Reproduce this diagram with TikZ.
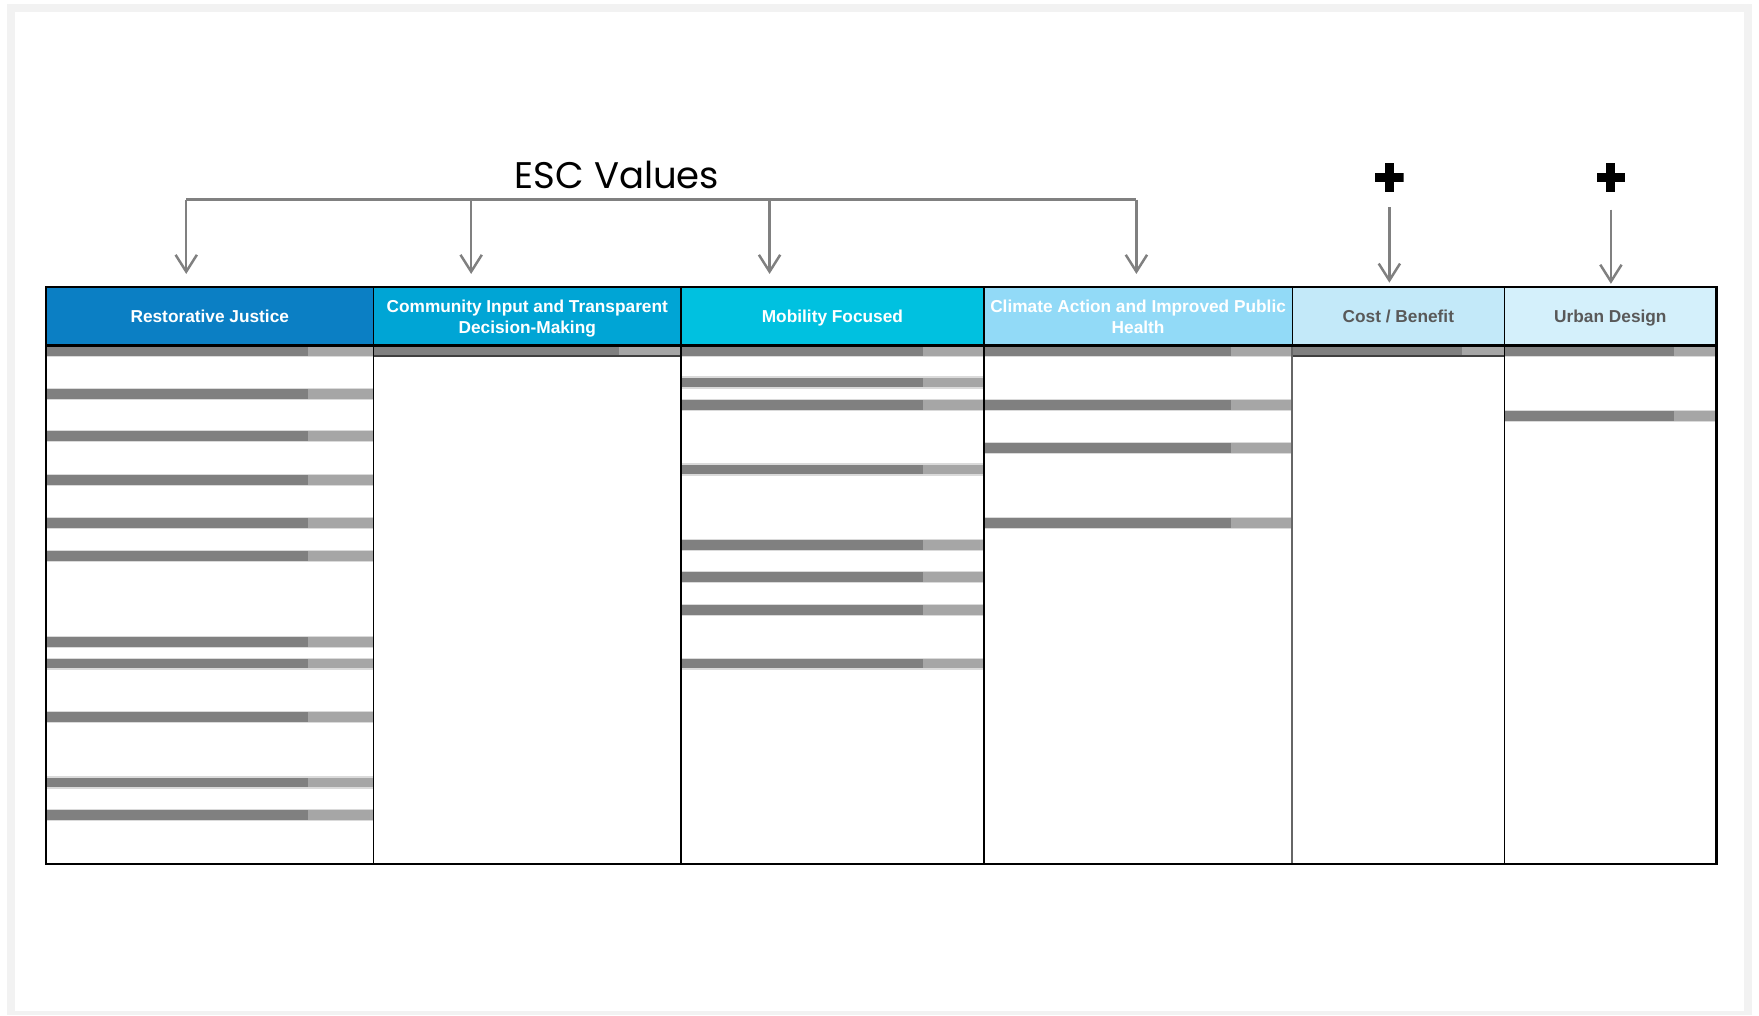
\documentclass[tikz,border=0pt]{standalone}
\usepackage{fontspec}
\usetikzlibrary{arrows.meta}
\newfontfamily\hdrfamily{Liberation Sans}
\newfontfamily\titlefamily{Poppins}
\definecolor{rjblue}{HTML}{0B7FC4}
\definecolor{ciblue}{HTML}{00A5D5}
\definecolor{mfblue}{HTML}{00C1E0}
\definecolor{cablue}{HTML}{92DAF7}
\definecolor{cbblue}{HTML}{C3E9F9}
\definecolor{udblue}{HTML}{D4F0FB}
\definecolor{bardark}{HTML}{808080}
\definecolor{barlight}{HTML}{A6A6A6}
\definecolor{baredge}{HTML}{DADADA}
\definecolor{linkgray}{HTML}{808080}
\definecolor{framegray}{HTML}{F2F2F2}
\definecolor{hdrtext}{HTML}{595959}
\tikzset{
  header/.style = {rectangle, anchor=north west, minimum height=52, inner sep=0,
    outer sep=0, draw=black, line width=1.5, align=center, text=white,
    font=\hdrfamily\bfseries\fontsize{15.4}{19}\selectfont},
  oneline/.style = {text height=11.1, text depth=0},
  link/.style = {draw=linkgray, line width=2.2},
  dropline/.style = {link, -{Straight Barb[length=15pt,width=19pt]}},
  colrule/.style = {line width=1.3},
  plussign/.style = {minimum size=25.5, inner sep=0, path picture={
    \fill ([shift={(-12.75pt,-4pt)}]path picture bounding box.center) rectangle ([shift={(12.75pt,4pt)}]path picture bounding box.center);
    \fill ([shift={(-4pt,-12.75pt)}]path picture bounding box.center) rectangle ([shift={(4pt,12.75pt)}]path picture bounding box.center);}}
}
% left, right, middle of one bar
\newcommand{\drawbar}[3]{%
  \fill[baredge] (#1,#3-5.4) rectangle (#2,#3+5.4);
  \fill[bardark] (#1,#3-4.4) rectangle ({#1+0.8*(#2-#1)},#3+4.4);
  \fill[barlight] ({#1+0.8*(#2-#1)},#3-4.4) rectangle (#2,#3+4.4);}
\newcommand{\toprule}{\rule{0pt}{16pt}}
\newcommand{\botrule}{\rule[-4pt]{0pt}{4pt}}

\begin{document}
\begin{tikzpicture}[x=1pt,y=-1pt]
  \useasboundingbox (0,0) rectangle (1568,905);
  \fill[framegray] (6.2,3.6) rectangle (1561.8,905);
  \fill[white] (13.4,10.7) rectangle (1554.6,901.2);

  \node[header, oneline, fill=rjblue, minimum width=292] (hRJ) at (41,256) {Restorative Justice};
  \node[header, fill=ciblue, minimum width=274] (hCI) at (333,256) {\toprule Community Input and Transparent\\Decision-Making\botrule};
  \node[header, oneline, fill=mfblue, minimum width=270] (hMF) at (607,256) {Mobility Focused};
  \node[header, fill=cablue, minimum width=275] (hCA) at (877,256) {\toprule Climate Action and Improved Public\\Health\botrule};
  \node[header, oneline, fill=cbblue, minimum width=189, text=hdrtext] (hCB) at (1152,256) {Cost / Benefit};
  \node[header, oneline, fill=udblue, minimum width=189, text=hdrtext] (hUD) at (1341,256) {Urban Design};
  \coordinate (tblSE) at (1530,770);

  \foreach \y in {313,351,389,428,466.5,495.5,572,591.5,639.5,697.5,726.5} {\drawbar{41}{333}{\y}}
  \drawbar{333}{607}{313}
  \foreach \y in {313,341,361,418.5,485.5,514.5,543.5,591.5} {\drawbar{607}{877}{\y}}
  \foreach \y in {313,361,399,466.5} {\drawbar{877}{1152}{\y}}
  \drawbar{1152}{1341}{313}
  \foreach \y in {313,370.5} {\drawbar{1341}{1530}{\y}}

  \foreach \h in {hCI,hCB}
    \draw[line width=1.5, black!75] ([yshift=-9.5pt]\h.south west) -- ([yshift=-9.5pt]\h.south east);
  \foreach \h in {hCI,hMF,hCA,hUD}
    \draw[colrule] (\h.south west) -- (\h.south west |- tblSE);
  \draw[colrule, line width=2, black!60] (hCB.south west) -- (hCB.south west |- tblSE);
  \draw[line width=3] (hRJ.south west) -- (hUD.south east);
  \draw[line width=2.2] (hRJ.north west) rectangle (tblSE);

  \node[font=\titlefamily\fontsize{33}{40}\selectfont, anchor=base] (esc) at (550,168) {ESC Values};
  \draw[link] (166,178) -- (1013,178);
  \foreach \x/\h in {166/hRJ,420/hCI,686/hMF,1013/hCA}
    \draw[dropline, shorten >=11.8] (\x,178) -- (\x,0 |- \h.north);

  \node[plussign] (pCB) at (1238.5,158) {};
  \node[plussign] (pUD) at (1436,158) {};
  \draw[dropline, shorten <=14, shorten >=4] (pCB) -- (pCB |- hCB.north);
  \draw[dropline, shorten <=16, shorten >=3] (pUD) -- (pUD |- hUD.north);
\end{tikzpicture}
\end{document}
